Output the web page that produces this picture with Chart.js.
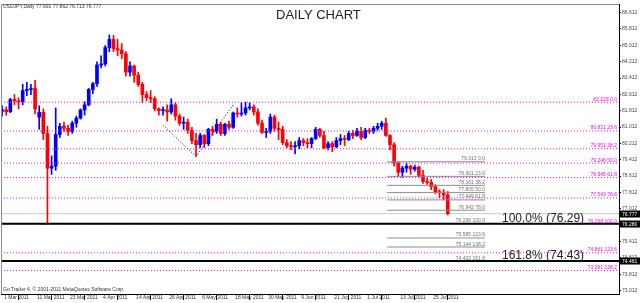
<!DOCTYPE html>
<html><head><meta charset="utf-8">
<script src="https://cdn.jsdelivr.net/npm/chart.js@4/dist/chart.umd.min.js"></script>
<style>html,body{margin:0;padding:0;background:#fff;}canvas{display:block;}</style>
</head><body>
<canvas id="c" width="640" height="303"></canvas>
<script>
// ---- categories (trading days) ----
const marDays=[1,2,3,4,7,8,9,10,11,14,15,16,17,18,21,22,23,24,25,28,29,30,31];
const aprDays=[1,4,5,6,7,8,11,12,13,14,15,18,19,20,21,22,25,26,27,28,29];
const mayDays=[2,3,4,5,6,9,10,11,12,13,16,17,18,19,20,23,24,25,26,27,30,31];
const junDays=[1,2,3,6,7,8,9,10,13,14,15,16,17,20,21,22,23,24,27,28,29,30];
const julDays=[1,4,5,6,7,8,11,12,13,14,15,18,19,20,21,22,25,26,27,28,29];
const dates=[].concat(
  marDays.map(d=>d+" Mar 2011"),aprDays.map(d=>d+" Apr 2011"),mayDays.map(d=>d+" May 2011"),
  junDays.map(d=>d+" Jun 2011"),julDays.map(d=>d+" Jul 2011"));

// ---- series values (USDJPY daily) ----
const ohlcOpen=[81.78,81.86,81.76,82.36,82.30,82.24,82.80,82.85,82.90,81.50,81.73,80.70,79.00,79.10,80.65,81.05,80.95,80.80,81.20,81.45,81.85,82.10,82.85,
83.13,84.05,84.10,84.90,85.30,84.85,84.78,84.60,83.70,84.00,83.55,83.10,82.60,82.45,82.40,81.90,81.82,81.85,81.75,82.10,81.55,
81.20,81.25,80.85,80.35,80.15,80.60,80.20,80.90,80.80,81.15,80.70,81.15,81.00,81.70,81.65,81.70,81.95,82.00,81.75,81.20,80.75,80.80,
81.50,80.95,80.90,80.25,80.10,80.05,80.10,80.35,80.25,80.20,80.45,80.90,80.60,80.00,80.20,80.05,80.35,80.45,80.40,80.70,80.60,80.80,
80.50,80.85,80.80,80.95,81.05,81.20,80.60,80.15,79.25,78.80,79.00,79.10,78.95,79.05,78.65,78.35,78.30,78.10,77.85,77.80,77.691];
const ohlcHigh=[82.05,82.00,82.42,82.60,82.45,83.10,83.20,83.10,83.30,82.05,81.90,81.05,79.60,81.95,81.20,81.25,81.10,81.30,81.55,81.90,82.25,82.90,83.20,
84.20,84.50,85.00,85.52,85.50,85.30,85.10,84.70,84.20,84.05,83.70,83.20,82.75,82.80,82.50,81.95,82.00,82.10,82.40,82.20,81.65,
81.50,81.40,81.00,80.70,80.70,80.65,80.95,81.05,81.40,81.25,81.20,81.30,81.75,81.95,82.20,82.23,82.20,82.10,81.90,81.35,80.95,81.65,
81.60,81.25,81.05,80.40,80.30,80.30,80.50,80.45,80.45,80.50,81.00,80.95,80.80,80.30,80.30,80.50,80.65,80.60,80.80,80.85,80.95,81.00,
80.95,80.95,81.05,81.20,81.30,81.45,80.65,80.25,79.31,79.10,79.25,79.15,79.15,79.10,78.90,78.50,78.45,78.20,77.95,77.95,77.862];
const ohlcLow=[81.55,81.59,81.72,82.10,81.90,82.10,82.55,82.60,81.65,80.90,80.40,76.25,78.70,78.90,80.50,80.80,80.60,80.70,81.00,81.40,81.60,82.05,82.65,
83.00,83.90,84.00,84.70,84.70,84.50,84.35,83.50,83.50,83.20,83.00,82.20,82.30,82.20,81.80,81.60,81.60,81.30,81.65,81.35,81.10,
80.90,80.70,80.20,79.57,80.00,80.00,80.10,80.60,80.70,80.60,80.60,80.90,80.95,81.50,81.55,81.60,81.85,81.60,81.10,80.70,80.50,80.70,
80.80,80.40,80.15,80.00,79.90,79.70,79.95,80.10,80.00,80.00,80.40,80.50,79.95,79.90,79.80,80.00,80.15,80.10,80.35,80.45,80.55,80.40,
80.45,80.70,80.70,80.85,80.90,80.55,79.90,79.10,78.60,78.55,78.80,78.70,78.85,78.55,78.25,78.20,77.95,77.75,77.55,77.45,76.713];
const ohlcClose=[81.86,81.76,82.36,82.30,82.24,82.80,82.85,82.90,81.90,81.73,80.70,79.00,79.10,80.65,81.05,80.95,80.80,81.20,81.45,81.85,82.10,82.85,83.13,
84.05,84.10,84.90,85.30,84.85,84.78,84.60,83.70,84.00,83.55,83.10,82.60,82.45,82.40,81.90,81.82,81.85,81.75,82.10,81.55,81.20,
81.25,80.85,80.35,80.15,80.60,80.20,80.90,80.80,81.15,80.70,81.15,81.00,81.70,81.65,81.70,81.95,82.00,81.75,81.20,80.75,80.80,81.50,
80.95,80.90,80.25,80.10,80.05,80.10,80.35,80.25,80.20,80.45,80.90,80.60,80.00,80.20,80.05,80.35,80.45,80.40,80.70,80.60,80.80,80.50,
80.85,80.80,80.95,81.05,81.20,80.60,80.15,79.25,78.80,79.00,79.10,78.95,79.05,78.65,78.35,78.30,78.10,77.85,77.80,77.691,76.777];

// ---- tick labels ----
const xTickLabels=["1 Mar 2011","11 Mar 2011","23 Mar 2011","4 Apr 2011","14 Apr 2011","26 Apr 2011","6 May 2011","18 May 2011","30 May 2011","9 Jun 2011","21 Jun 2011","1 Jul 2011","13 Jul 2011","25 Jul 2011"];
const yTickLabels=["86.612","85.812","85.012","84.212","83.412","82.612","81.812","81.012","80.212","79.412","78.612","77.812","77.012","76.212","75.412","74.612","73.812","73.012"];

// ---- drawn objects ----
const bidPrice=76.777;
const hLinePrices=[76.280,74.461];
const targetTexts=["100.0% (76.29)","161.8% (74.43)"];
const grayFibPrices=[79.313,78.601,78.161,77.805,77.449,76.942,76.296,75.585,75.144,74.432];
const grayFibPct=["0.0","23.6","38.2","50.0","61.8","78.6","100.0","123.6","138.2","161.8"];
const grayFibBars=[93.3,117];
const pinkFibPrices=[82.228,80.821,79.951,79.248,78.545,77.543,76.268,74.861,73.991];
const pinkFibPct=["0.0","23.6","38.2","50.0","61.8","78.6","100.0","123.6","138.2"];
const zigzagBars=[39,47,56];
const zigzagPrices=[81.10,79.57,82.10];

const X_MIN=-0.257, X_MAX=149.49, Y_MIN=72.845, Y_MAX=87.033;
const FONT='"Liberation Sans", Arial, sans-serif';
const UP='#0000ff', DOWN='#ff0000';
const candleColor=ctx=>ohlcClose[ctx.dataIndex]>=ohlcOpen[ctx.dataIndex]?UP:DOWN;
const xTickIdx=xTickLabels.map(l=>dates.indexOf(l));

const hline=(y,x0,x1,color,width,dash,order)=>({type:'line',data:[{x:x0,y},{x:x1,y}],borderColor:color,borderWidth:width,borderDash:dash||[],pointRadius:0,order,fill:false});

const datasets=[
  hline(bidPrice,X_MIN,X_MAX,'#c8c8c8',1,null,6),
  {label:'wick',data:dates.map((d,i)=>({x:i,y:[ohlcLow[i],ohlcHigh[i]]})),backgroundColor:candleColor,barThickness:1,grouped:false,minBarLength:1,order:5},
  {label:'body',data:dates.map((d,i)=>({x:i,y:[Math.min(ohlcOpen[i],ohlcClose[i]),Math.max(ohlcOpen[i],ohlcClose[i])]})),backgroundColor:candleColor,barThickness:3,grouped:false,minBarLength:1,order:4},
  ...grayFibPrices.map(p=>hline(p,grayFibBars[0],grayFibBars[1],'#8c8c8c',1,null,3)),
  ...pinkFibPrices.map(p=>hline(p,X_MIN,X_MAX,'#ff00ff',1,[1,2],2)),
  ...hLinePrices.map(p=>hline(p,X_MIN,X_MAX,'#000000',2,null,1)),
  {type:'line',data:zigzagBars.map((b,i)=>({x:b,y:zigzagPrices[i]})),borderColor:'#000',borderWidth:1,borderDash:[1,2],pointRadius:0,order:0,fill:false,tension:0}
];

const overlay={
  id:'overlay',
  afterDraw(chart){
    const {ctx,chartArea:a,scales:{x,y}}=chart;
    ctx.save();
    ctx.strokeStyle='#8c8c8c';ctx.lineWidth=1;
    ctx.beginPath();ctx.moveTo(a.left+0.5,a.bottom);ctx.lineTo(a.left+0.5,a.top+0.5);ctx.lineTo(a.right,a.top+0.5);ctx.stroke();
    ctx.fillStyle='#333';ctx.textBaseline='alphabetic';ctx.textAlign='left';
    ctx.font='5px '+FONT;
    ctx.fillText('USDJPY,Daily 77.691 77.862 76.713 76.777',3,7.5);
    ctx.fillText('Go Trader 4, \u00a9 2001-2011 MetaQuotes Software Corp.',3,291);
    ctx.fillStyle='#222';ctx.font='13px '+FONT;
    ctx.fillText('DAILY CHART',276,18.5);
    ctx.font='12px '+FONT;
    hLinePrices.forEach((p,i)=>{ctx.fillText(targetTexts[i],502,y.getPixelForValue(p)-2);});
    ctx.font='5px '+FONT;ctx.textAlign='right';ctx.fillStyle='#707070';
    const gx=x.getPixelForValue(grayFibBars[1]);
    grayFibPrices.forEach((p,i)=>{ctx.fillText(p.toFixed(3)+' '+grayFibPct[i],gx,y.getPixelForValue(p)-1.5);});
    ctx.fillStyle='#ff00ff';
    pinkFibPrices.forEach((p,i)=>{ctx.fillText(p.toFixed(3)+' '+pinkFibPct[i],a.right-2,y.getPixelForValue(p)-1.5);});
    ctx.textAlign='left';
    [bidPrice,...hLinePrices].forEach(p=>{
      const py=y.getPixelForValue(p);
      ctx.fillStyle='#000';ctx.fillRect(a.right+1,Math.round(py)-3.5,20,7);
      ctx.fillStyle='#fff';ctx.fillText(p.toFixed(3),a.right+3,Math.round(py)+1.8);
    });
    ctx.restore();
  }
};

new Chart(document.getElementById('c'),{
  type:'bar',
  data:{datasets},
  options:{
    responsive:false,animation:false,devicePixelRatio:1,
    layout:{padding:{top:1,left:1,right:0,bottom:0}},
    plugins:{legend:{display:false},tooltip:{enabled:false}},
    scales:{
      x:{type:'linear',position:'bottom',min:X_MIN,max:X_MAX,offset:false,
        afterBuildTicks:s=>{s.ticks=xTickIdx.map(v=>({value:v}));},
        afterFit:s=>{s.height=9;},
        grid:{drawOnChartArea:false,drawTicks:true,tickLength:6,tickColor:'#000',tickWidth:1},
        border:{display:true,color:'#000',width:1},
        ticks:{autoSkip:false,maxRotation:0,minRotation:0,align:'start',labelOffset:2,padding:-5,
          font:{size:5,family:FONT},color:'#333',callback:v=>dates[v]||''}},
      y:{type:'linear',position:'right',min:Y_MIN,max:Y_MAX,
        afterBuildTicks:s=>{s.ticks=yTickLabels.map(t=>({value:parseFloat(t)}));},
        afterFit:s=>{s.width=21;},
        grid:{drawOnChartArea:false,tickLength:2,tickColor:'#000'},
        border:{display:true,color:'#000',width:1},
        ticks:{padding:1,font:{size:5,family:FONT},color:'#444',callback:(v,i)=>yTickLabels[i]}}
    }
  },
  plugins:[overlay]
});
</script>
</body></html>
